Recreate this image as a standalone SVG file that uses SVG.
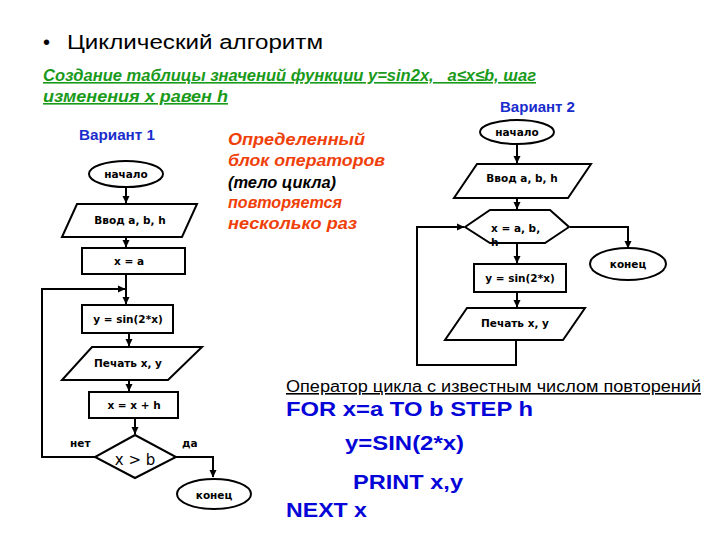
<svg xmlns="http://www.w3.org/2000/svg" width="720" height="540" viewBox="0 0 720 540">
<defs>
<marker id="ar" markerWidth="8" markerHeight="8" refX="7" refY="4" orient="auto" markerUnits="userSpaceOnUse">
<path d="M0,0.5 L7.5,4 L0,7.5 Z" fill="#000"/>
</marker>
</defs>
<style>
.s{fill:#fff;stroke:#000;stroke-width:2}
.c{fill:none;stroke:#000;stroke-width:2}
.t{font-family:"DejaVu Sans",sans-serif;font-weight:bold;font-size:10.5px;text-anchor:middle;fill:#000}
.lb{font-family:"DejaVu Sans",sans-serif;font-weight:bold;font-size:10.5px;fill:#000}
.var{font-family:"Liberation Sans",Arial,sans-serif;font-weight:bold;font-size:14px;fill:#1a2ccc}
.red{font-family:"Liberation Sans",Arial,sans-serif;font-weight:bold;font-style:italic;font-size:16px;fill:#f0400a}
.code{font-family:"Liberation Sans",Arial,sans-serif;font-weight:bold;font-size:20px;fill:#0505d8}
</style>
<rect width="720" height="540" fill="#fff"/>
<g id="title" font-family="'Liberation Sans',Arial,sans-serif" font-size="20" fill="#000">
<text x="43" y="49">•</text>
<text x="67" y="49" textLength="256" lengthAdjust="spacingAndGlyphs">Циклический алгоритм</text>
</g>
<g id="subtitle" font-family="'Liberation Sans',Arial,sans-serif" font-weight="bold" font-style="italic" font-size="16" fill="#1a9a1a">
<text x="43" y="81" xml:space="preserve" text-decoration="underline" textLength="493" lengthAdjust="spacingAndGlyphs">Создание таблицы значений функции y=sin2x,   a≤x≤b, шаг</text>
<text x="43" y="102" text-decoration="underline" textLength="185" lengthAdjust="spacingAndGlyphs">изменения x равен h</text>
</g>
<text id="var1" class="var" x="79" y="140" textLength="76" lengthAdjust="spacingAndGlyphs">Вариант 1</text>
<text id="var2" class="var" x="500" y="112" textLength="75" lengthAdjust="spacingAndGlyphs">Вариант 2</text>
<g id="note">
<text class="red" x="228" y="145" textLength="137" lengthAdjust="spacingAndGlyphs">Определенный</text>
<text class="red" x="228" y="166" textLength="157" lengthAdjust="spacingAndGlyphs">блок операторов</text>
<text class="red" x="228" y="188" style="fill:#000" textLength="108" lengthAdjust="spacingAndGlyphs">(тело цикла)</text>
<text class="red" x="228" y="208" style="font-size:16.5px" textLength="114" lengthAdjust="spacingAndGlyphs">повторяется</text>
<text class="red" x="228" y="229" textLength="129" lengthAdjust="spacingAndGlyphs">несколько раз</text>
</g>
<g id="connectors">
<line class="c" x1="126" y1="187" x2="126" y2="203" marker-end="url(#ar)"/>
<line class="c" x1="126" y1="237" x2="126" y2="247" marker-end="url(#ar)"/>
<line class="c" x1="126" y1="274" x2="126" y2="304" marker-end="url(#ar)"/>
<polyline class="c" points="95,457 42,457 42,289 125,289" marker-end="url(#ar)"/>
<line class="c" x1="129" y1="333" x2="129" y2="346" marker-end="url(#ar)"/>
<line class="c" x1="129" y1="380" x2="129" y2="391" marker-end="url(#ar)"/>
<line class="c" x1="135" y1="418" x2="135" y2="434" marker-end="url(#ar)"/>
<polyline class="c" points="176,457 213,457 213,477" marker-end="url(#ar)"/>
<line class="c" x1="517" y1="144" x2="517" y2="163" marker-end="url(#ar)"/>
<line class="c" x1="517" y1="198" x2="517" y2="209" marker-end="url(#ar)"/>
<polyline class="c" points="570,227 628,227 628,248" marker-end="url(#ar)"/>
<line class="c" x1="517" y1="243" x2="517" y2="263" marker-end="url(#ar)"/>
<line class="c" x1="517" y1="292" x2="517" y2="307" marker-end="url(#ar)"/>
<polyline class="c" points="516,340 516,365 417,365 417,227 464,227" marker-end="url(#ar)"/>
<text class="lb" x="70" y="447">нет</text>
<text class="lb" x="182" y="447">да</text>
</g>
<g id="v1-start"><ellipse class="s" cx="126" cy="174" rx="37" ry="13"/><text class="t" x="126" y="178">начало</text></g>
<g id="v1-input"><polygon class="s" points="77,204 197,204 182,237 62,237"/><text class="t" x="130" y="224">Ввод a, b, h</text></g>
<g id="v1-init"><rect class="s" x="82" y="248" width="103" height="26"/><text class="t" x="129" y="265">x = a</text></g>
<g id="v1-calc"><rect class="s" x="82" y="305" width="91" height="28"/><text class="t" x="128" y="323">y = sin(2*x)</text></g>
<g id="v1-print"><polygon class="s" points="92,347 202,347 168,380 62,380"/><text class="t" x="128" y="367">Печать x, y</text></g>
<g id="v1-step"><rect class="s" x="89" y="392" width="89" height="26"/><text class="t" x="134" y="409">x = x + h</text></g>
<g id="v1-cond"><polygon class="s" points="135,435 176,457 135,478 95,457"/><text x="135" y="465" font-family="'DejaVu Sans',sans-serif" font-size="15" text-anchor="middle">x &gt; b</text></g>
<g id="v1-end"><ellipse class="s" cx="214" cy="494" rx="37" ry="15"/><text class="t" x="214" y="499">конец</text></g>
<g id="v2-start"><ellipse class="s" cx="517" cy="132" rx="37" ry="12"/><text class="t" x="517" y="136">начало</text></g>
<g id="v2-input"><polygon class="s" points="477,164 591,164 568,198 454,198"/><text class="t" x="522" y="182">Ввод a, b, h</text></g>
<g id="v2-loop"><polygon points="465,227 490,210 550,210 569,227 545,243 490,243" fill="#fff"/><text class="lb" x="491" y="232">x = a, b,</text><text class="lb" x="491" y="246">h</text><polygon class="c" points="465,227 490,210 550,210 569,227 545,243 490,243"/></g>
<g id="v2-end"><ellipse class="s" cx="628" cy="264" rx="38" ry="16"/><text class="t" x="628" y="268">конец</text></g>
<g id="v2-calc"><rect class="s" x="474" y="264" width="92" height="28"/><text class="t" x="520" y="282">y = sin(2*x)</text></g>
<g id="v2-print"><polygon class="s" points="467,308 585,308 563,340 445,340"/><text class="t" x="515" y="327">Печать x, y</text></g>
<g id="code">
<text x="286" y="392" font-family="'Liberation Sans',Arial,sans-serif" font-size="16" fill="#000" text-decoration="underline" textLength="415" lengthAdjust="spacingAndGlyphs">Оператор цикла с известным числом повторений</text>
<text class="code" x="286" y="416" textLength="247" lengthAdjust="spacingAndGlyphs">FOR x=a TO b STEP h</text>
<text class="code" x="345" y="450" textLength="119" lengthAdjust="spacingAndGlyphs">y=SIN(2*x)</text>
<text class="code" x="353" y="489" textLength="110" lengthAdjust="spacingAndGlyphs">PRINT x,y</text>
<text class="code" x="286" y="517" textLength="81" lengthAdjust="spacingAndGlyphs">NEXT x</text>
</g>
</svg>
